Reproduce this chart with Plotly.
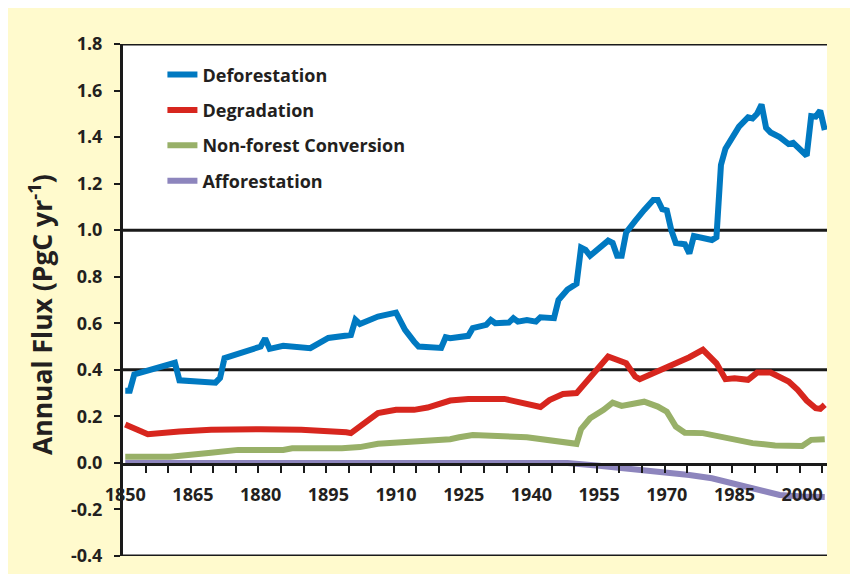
import plotly.graph_objects as go

# vertices (year, PgC/yr)
defor_years = [1850, 1851, 1852, 1861, 1862, 1870, 1871, 1872, 1880, 1881, 1882, 1885, 1891,
               1895, 1900, 1901, 1902, 1906, 1910, 1912, 1914, 1915, 1920, 1921, 1922, 1926,
               1927, 1930, 1931, 1932, 1935, 1936, 1937, 1939, 1941, 1942, 1945, 1946, 1948,
               1950, 1951, 1952, 1953, 1957, 1958, 1959, 1960, 1961, 1963, 1964, 1965, 1967,
               1968, 1969, 1970, 1971, 1972, 1974, 1975, 1976, 1980, 1981, 1982, 1983, 1986,
               1988, 1989, 1990, 1991, 1992, 1993, 1995, 1997, 1998, 2001, 2002, 2003, 2004,
               2005]
defor_vals = [0.31, 0.31, 0.38, 0.43, 0.355, 0.345, 0.365, 0.45, 0.50, 0.535, 0.49, 0.503, 0.493,
              0.537, 0.55, 0.615, 0.597, 0.629, 0.646, 0.572, 0.521, 0.50, 0.494, 0.54, 0.536, 0.546,
              0.579, 0.593, 0.614, 0.60, 0.603, 0.622, 0.607, 0.614, 0.607, 0.626, 0.622, 0.70, 0.745,
              0.77, 0.925, 0.915, 0.89, 0.955, 0.945, 0.89, 0.89, 0.99, 1.04, 1.066, 1.087, 1.13,
              1.13, 1.09, 1.085, 1.00, 0.945, 0.94, 0.90, 0.975, 0.958, 0.97, 1.28, 1.35, 1.445,
              1.485, 1.48, 1.50, 1.54, 1.44, 1.42, 1.40, 1.37, 1.375, 1.32, 1.49, 1.488, 1.514,
              1.43]

degr_years = [1850, 1855, 1862, 1869, 1880, 1889, 1899, 1900, 1906, 1910, 1914, 1917, 1922, 1926,
              1934, 1938, 1942, 1944, 1947, 1950, 1954, 1957, 1961, 1963, 1964, 1968, 1972, 1975,
              1978, 1981, 1983, 1985, 1988, 1990, 1993, 1997, 1999, 2001, 2003, 2004, 2005]
degr_vals = [0.165, 0.123, 0.135, 0.142, 0.145, 0.142, 0.132, 0.128, 0.214, 0.228, 0.228, 0.238,
             0.268, 0.275, 0.275, 0.256, 0.24, 0.27, 0.296, 0.30, 0.385, 0.457, 0.428, 0.371, 0.36,
             0.392, 0.428, 0.454, 0.486, 0.428, 0.36, 0.364, 0.357, 0.388, 0.388, 0.35, 0.314,
             0.268, 0.235, 0.232, 0.25]

nonf_years = [1850, 1860, 1869, 1875, 1885, 1887, 1898, 1902, 1906, 1910, 1914, 1922, 1924, 1927,
              1939, 1945, 1950, 1951, 1953, 1956, 1958, 1960, 1965, 1968, 1970, 1972, 1974, 1978,
              1981, 1984, 1989, 1994, 2000, 2002, 2005]
nonf_vals = [0.027, 0.027, 0.044, 0.056, 0.056, 0.063, 0.063, 0.068, 0.082, 0.087, 0.087, 0.102,
             0.11, 0.12, 0.11, 0.092, 0.082, 0.145, 0.192, 0.228, 0.259, 0.245, 0.263, 0.242, 0.22,
             0.156, 0.13, 0.128, 0.116, 0.099, 0.085, 0.075, 0.073, 0.099, 0.102]

affor_years = [1850, 1948, 1955, 1965, 1975, 1980, 1985, 1988, 1991, 1995, 2000, 2005]
affor_vals = [0.0, 0.0, -0.012, -0.03, -0.052, -0.066, -0.09, -0.11, -0.125, -0.138, -0.144, -0.146]

year_labels = [1850, 1865, 1880, 1895, 1910, 1925, 1940, 1955, 1970, 1985, 2000]
y_ticks = [-0.4, -0.2, 0.0, 0.2, 0.4, 0.6, 0.8, 1.0, 1.2, 1.4, 1.6, 1.8]

FONT = "Open Sans"
BG = "#FFFACD"
INK = "#231F20"
AX = "#1a1a1a"
X_RANGE = [1849.5, 2005.5]
Y_RANGE = [-0.4, 1.8]
ZERO_FRAC = (0 - Y_RANGE[0]) / (Y_RANGE[1] - Y_RANGE[0])  # where y = 0 sits in the plot

fig = go.Figure()
series = [
    ("Deforestation", defor_years, defor_vals, "#0079C1"),
    ("Degradation", degr_years, degr_vals, "#D7261E"),
    ("Non-forest Conversion", nonf_years, nonf_vals, "#98B068"),
    ("Afforestation", affor_years, affor_vals, "#8D85BD"),
]
for i, (name, xs, ys, col) in enumerate(series):
    fig.add_trace(go.Scatter(
        x=xs, y=ys, name=name, mode="lines",
        line=dict(color=col, width=6),
        legendgroup=name, legendrank=i + 1,
    ))
# empty helper traces so the axes hung on y = 0 get drawn
fig.add_trace(go.Scatter(x=[None], y=[None], xaxis="x", yaxis="y2",
                         showlegend=False, hoverinfo="skip"))
fig.add_trace(go.Scatter(x=[None], y=[None], xaxis="x2", yaxis="y2",
                         showlegend=False, hoverinfo="skip"))

# white plot area, paper-referenced so it sits under every subplot and axis
fig.add_shape(type="rect", xref="paper", yref="paper", x0=0, x1=1, y0=0, y1=1,
              fillcolor="white", line_width=0, layer="below")
# horizontal rules: frame top/bottom plus the two reference lines
for yv in [1.8, 1.0, 0.4, -0.4]:
    fig.add_shape(type="line", xref="x domain", yref="y", x0=0, x1=1, y0=yv, y1=yv,
                  line=dict(color=AX, width=3), layer="below")

tick_marks = [1854.5 + 5 * k for k in range(31)]

# page body adds an 8px white margin, so the figure is 8px smaller
fig.update_layout(
    width=850, height=566,
    margin=dict(l=115, r=31, t=36, b=18, autoexpand=False),
    paper_bgcolor=BG, plot_bgcolor="rgba(0,0,0,0)",
    font=dict(family=FONT, color=INK, size=18),
    showlegend=True,
    legend=dict(x=0.056, y=0.976, xanchor="left", yanchor="top",
                bgcolor="rgba(0,0,0,0)", font=dict(size=18, family=FONT, weight="bold", color=INK),
                itemwidth=30, tracegroupgap=9),
    annotations=[dict(
        text="<b>Annual Flux (PgC yr<sup>-1</sup>)</b>", textangle=-90,
        xref="paper", yref="paper", x=(40 - 123) / 704, y=(556 - 315) / 512,
        xanchor="center", yanchor="middle", showarrow=False,
        font=dict(size=26.5, family=FONT, color=INK),
    )],
    # tick marks only, hung on the bottom of y2 (= the zero line)
    xaxis=dict(
        range=X_RANGE, anchor="y2", automargin=False,
        tickmode="array", tickvals=tick_marks, ticktext=["" for _ in tick_marks],
        ticks="outside", ticklen=7, tickwidth=2, tickcolor=AX,
        showgrid=False, zeroline=False,
        showline=True, linecolor=AX, linewidth=3,
    ),
    # year labels only
    xaxis2=dict(
        range=X_RANGE, overlaying="x", anchor="y2", side="bottom",
        automargin=False, matches="x",
        tickmode="array", tickvals=year_labels, ticktext=[str(v) for v in year_labels],
        ticks="", showgrid=False, zeroline=False, showline=False,
        tickfont=dict(size=18, family=FONT, weight="bold", color=INK),
        ticklabelstandoff=19,
    ),
    yaxis=dict(
        range=Y_RANGE, domain=[0, 1], anchor="x", automargin=False,
        tickmode="array", tickvals=y_ticks,
        ticktext=[f"{v:.1f}" for v in y_ticks],
        ticks="outside", ticklen=6, tickwidth=2, tickcolor=AX,
        showgrid=False, zeroline=False,
        showline=True, linecolor=AX, linewidth=3,
        tickfont=dict(size=18, family=FONT, weight="bold", color=INK),
        ticklabelstandoff=8,
    ),
    yaxis2=dict(domain=[ZERO_FRAC, 1], anchor="x", visible=False, range=[0, 1]),
)

fig.write_html("out.html")
